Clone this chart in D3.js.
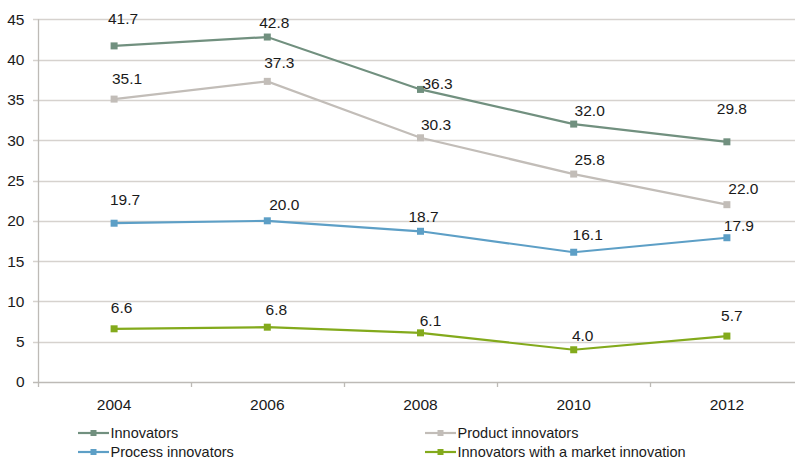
<!DOCTYPE html>
<html>
<head>
<meta charset="utf-8">
<script src="https://cdn.jsdelivr.net/npm/d3@7"></script>
<style>
  body { margin: 0; background: #fff; }
  svg { display: block; font-family: "Liberation Sans", Arial, sans-serif; }
</style>
</head>
<body>
<div id="chart"></div>
<script>
// chart data
var years = ["2004", "2006", "2008", "2010", "2012"];
var innovators = [41.7, 42.8, 36.3, 32.0, 29.8];
var productInnovators = [35.1, 37.3, 30.3, 25.8, 22.0];
var processInnovators = [19.7, 20.0, 18.7, 16.1, 17.9];
var marketInnovators = [6.6, 6.8, 6.1, 4.0, 5.7];
var seriesNames = ["Innovators", "Product innovators", "Process innovators", "Innovators with a market innovation"];
var yTicks = [0, 5, 10, 15, 20, 25, 30, 35, 40, 45];

// styling / layout (not data)
var colors = ["#71907f", "#c2bdb8", "#5d9fc6", "#83aa1c"];
// label nudges relative to the point [dx, baseline dy]
var labelNudges = [
    [[9, -22], [7, -9.5], [17, 0], [16, -8], [5, -28]],
    [[13, -15], [12, -13], [15.5, -8], [16, -9], [16.5, -11]],
    [[11, -18], [17, -11], [3, -9], [14, -12], [12, -7]],
    [[7.5, -16], [9, -12], [10, -7], [9, -9], [5, -15]]
];

var width = 795;
var height = 459;

var allSeries = [innovators, productInnovators, processInnovators, marketInnovators];

var svg = d3.select("#chart")
    .append("svg")
    .attr("width", width)
    .attr("height", height);

var x = d3.scaleBand()
    .domain(years)
    .range([37.5, 803.5]);

var y = d3.scaleLinear()
    .domain([0, 45])
    .range([382, 19.3]);

var cx = function(yr) { return x(yr) + x.bandwidth() / 2; };

// gridlines
svg.append("g")
    .selectAll("line")
    .data(yTicks)
    .enter()
    .append("line")
        .attr("x1", 33)
        .attr("x2", width)
        .attr("y1", function(d) { return Math.round(y(d)) + 0.5; })
        .attr("y2", function(d) { return Math.round(y(d)) + 0.5; })
        .attr("stroke", function(d) { return d == 0 ? "#bdbab6" : "#d6d2ce"; })
        .attr("stroke-width", 1.3);

// y axis line
svg.append("line")
    .attr("x1", 38.5).attr("x2", 38.5)
    .attr("y1", y(45)).attr("y2", y(0))
    .attr("stroke", "#bdbab6")
    .attr("stroke-width", 1.3);

// y tick labels
svg.append("g")
    .selectAll("text")
    .data(yTicks)
    .enter()
    .append("text")
        .attr("x", 24.5)
        .attr("y", function(d) { return y(d); })
        .attr("dy", "0.35em")
        .attr("text-anchor", "end")
        .attr("font-size", 15.5)
        .attr("fill", "#1a1a1a")
        .text(function(d) { return d; });

// x axis ticks at band edges
var edges = years.map(function(yr) { return x(yr); }).concat([x.range()[1]]);
svg.append("g")
    .selectAll("line")
    .data(edges)
    .enter()
    .append("line")
        .attr("x1", function(d) { return Math.round(d) + 0.5; })
        .attr("x2", function(d) { return Math.round(d) + 0.5; })
        .attr("y1", y(0))
        .attr("y2", y(0) + 5)
        .attr("stroke", "#bdbab6")
        .attr("stroke-width", 1.3);

// x labels
svg.append("g")
    .selectAll("text")
    .data(years)
    .enter()
    .append("text")
        .attr("x", function(d) { return cx(d); })
        .attr("y", 410)
        .attr("text-anchor", "middle")
        .attr("font-size", 15.5)
        .attr("fill", "#1a1a1a")
        .text(function(d) { return d; });

var line = d3.line()
    .x(function(d, i) { return cx(years[i]); })
    .y(function(d) { return y(d); });

// series lines, markers, labels
allSeries.forEach(function(vals, s) {
    var g = svg.append("g");
    g.append("path")
        .datum(vals)
        .attr("d", line)
        .attr("fill", "none")
        .attr("stroke", colors[s])
        .attr("stroke-width", 2.2);

    g.selectAll("rect")
        .data(vals)
        .enter()
        .append("rect")
            .attr("x", function(d, i) { return cx(years[i]) - 3.5; })
            .attr("y", function(d) { return y(d) - 3.5; })
            .attr("width", 7)
            .attr("height", 7)
            .attr("fill", colors[s]);

    g.selectAll("text")
        .data(vals)
        .enter()
        .append("text")
            .attr("x", function(d, i) { return cx(years[i]) + labelNudges[s][i][0]; })
            .attr("y", function(d, i) { return y(d) + labelNudges[s][i][1]; })
            .attr("text-anchor", "middle")
            .attr("font-size", 15.5)
            .attr("fill", "#1a1a1a")
            .text(function(d) { return d.toFixed(1); });
});

// legend (two columns)
var legendPos = [[78, 433], [425, 433], [78, 452], [425, 452]];
var legend = svg.append("g")
    .selectAll("g")
    .data(seriesNames)
    .enter()
    .append("g")
        .attr("transform", function(d, i) { return "translate(" + legendPos[i][0] + "," + legendPos[i][1] + ")"; });

legend.append("line")
    .attr("x1", 0).attr("x2", 31)
    .attr("y1", 0).attr("y2", 0)
    .attr("stroke", function(d, i) { return colors[i]; })
    .attr("stroke-width", 2.2);

legend.append("rect")
    .attr("x", 12.5).attr("y", -3)
    .attr("width", 6).attr("height", 6)
    .attr("fill", function(d, i) { return colors[i]; });

legend.append("text")
    .attr("x", 32.5)
    .attr("y", 0)
    .attr("dy", "0.35em")
    .attr("font-size", 14.5)
    .attr("fill", "#1a1a1a")
    .text(function(d) { return d; });
</script>
</body>
</html>
